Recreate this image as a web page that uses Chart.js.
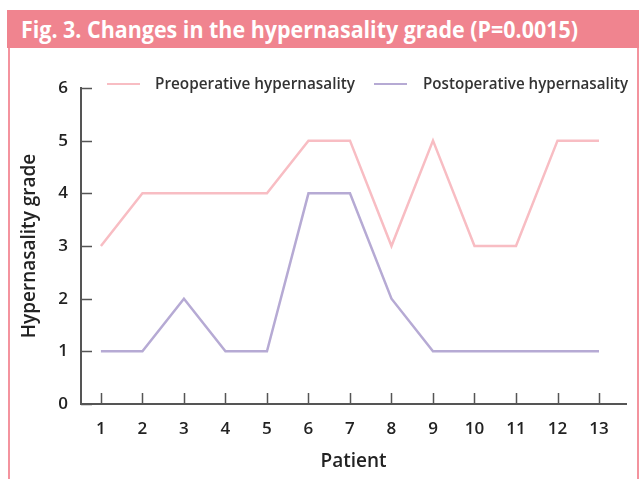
<!DOCTYPE html>
<html><head><meta charset="utf-8">
<script src="https://cdn.jsdelivr.net/npm/chart.js@4"></script>
<style>
html,body{margin:0;padding:0;background:#fff}
body{width:639px;height:479px;overflow:hidden;position:relative;font-family:"Open Sans",Lato,sans-serif}
#title{position:absolute;left:7px;top:10px;width:632px;height:38px;background:#F0848F;box-sizing:border-box}
#titletxt{position:absolute;left:14px;top:0;color:#fff;font:bold 24px "Open Sans",sans-serif;line-height:38px;white-space:nowrap;transform-origin:0 50%}
#frame{position:absolute;left:8px;top:48px;width:631px;height:431px;border-left:2px solid #F4939E;border-right:2px solid #F4939E;box-sizing:border-box}
#c{position:absolute;left:0;top:0}
.legline{position:absolute;height:2px}
.legtxt{position:absolute;font-size:16px;font-weight:600;color:#333;white-space:nowrap;line-height:20px;transform-origin:0 50%}
</style></head>
<body>
<div id="title"><span id="titletxt">Fig. 3. Changes in the hypernasality grade (P=0.0015)</span></div>
<div id="frame"></div>
<canvas id="c" width="639" height="479"></canvas>
<div id="legend"></div>
<script>
const patients = [1,2,3,4,5,6,7,8,9,10,11,12,13];
const preoperative = [3,4,4,4,4,5,5,3,5,3,3,5,5];
const postoperative = [1,1,2,1,1,4,4,2,1,1,1,1,1];
const yTicks = [0,1,2,3,4,5,6];
const seriesNames = ["Preoperative hypernasality","Postoperative hypernasality"];
const seriesColors = ["#F8BDC3","#B6AAD4"];

const toPts = vals => patients.map((p,i)=>({x:p,y:vals[i]}));

// fit title text to the reference's width (condensed face)
const tt = document.getElementById('titletxt');
tt.style.transform = 'scaleX(' + (557 / tt.getBoundingClientRect().width) + ')';

const inwardTicks = {
  id:'inwardTicks',
  afterDraw(chart){
    const ctx = chart.ctx, xs = chart.scales.x, ys = chart.scales.y;
    ctx.save();
    ctx.strokeStyle = '#555';
    ctx.lineWidth = 1.5;
    ctx.beginPath();
    patients.forEach(p=>{
      const px = Math.round(xs.getPixelForValue(p))+0.5;
      ctx.moveTo(px, ys.bottom); ctx.lineTo(px, ys.bottom-11);
    });
    yTicks.forEach(v=>{
      const py = Math.round(ys.getPixelForValue(v))+0.5;
      ctx.moveTo(xs.left, py); ctx.lineTo(xs.left+11, py);
    });
    ctx.stroke();
    ctx.restore();
  }
};

const chart = new Chart(document.getElementById('c'), {
  type:'line',
  data:{datasets:[
    {label:seriesNames[0], data:toPts(preoperative), borderColor:seriesColors[0], backgroundColor:seriesColors[0], borderWidth:2.5, pointRadius:0, tension:0, clip:false},
    {label:seriesNames[1], data:toPts(postoperative), borderColor:seriesColors[1], backgroundColor:seriesColors[1], borderWidth:2.5, pointRadius:0, tension:0, clip:false}
  ]},
  options:{
    responsive:false, animation:false, devicePixelRatio:1,
    layout:{padding:{left:0,top:88,right:13,bottom:0}},
    plugins:{legend:{display:false}, tooltip:{enabled:false}},
    scales:{
      x:{type:'linear', min:0.52, max:13.65,
        afterBuildTicks(s){ s.ticks = patients.map(v=>({value:v})); },
        afterFit(s){ s.height = 75; },
        grid:{display:false, drawTicks:false},
        border:{display:true, color:'#555', width:2},
        ticks:{padding:15, color:'#222', font:{family:"Open Sans", size:17, weight:'600'}, callback:v=>String(v), autoSkip:false, maxRotation:0},
        title:{display:true, text:'Patient', color:'#222', font:{family:"Open Sans", size:19, weight:'600'}, padding:{top:0,bottom:6}}
      },
      y:{min:0, max:6,
        afterBuildTicks(s){ s.ticks = yTicks.map(v=>({value:v})); },
        afterFit(s){ s.width = 81; },
        grid:{display:false, drawTicks:false},
        border:{display:true, color:'#555', width:2},
        ticks:{padding:13, color:'#222', font:{family:"Open Sans", size:17, weight:'600'}},
        title:{display:true, text:'Hypernasality grade', color:'#222', font:{family:"Open Sans", size:19, weight:'600'}, padding:{top:18,bottom:0}}
      }
    }
  },
  plugins:[inwardTicks]
});

// legend (HTML), colours from datasets
const leg = document.getElementById('legend');
const legPos = [{line:107, text:155, w:200},{line:374, text:423, w:205}];
chart.data.datasets.forEach((ds,i)=>{
  const l = document.createElement('div');
  l.className='legline'; l.style.left=legPos[i].line+'px'; l.style.top='83px'; l.style.width='33px'; l.style.background=ds.borderColor;
  const t = document.createElement('div');
  t.className='legtxt'; t.style.left=legPos[i].text+'px'; t.style.top='73px'; t.textContent=ds.label;
  leg.appendChild(l); leg.appendChild(t);
  t.style.transform = 'scaleX(' + (legPos[i].w / t.getBoundingClientRect().width) + ')';
});
</script>
</body></html>
